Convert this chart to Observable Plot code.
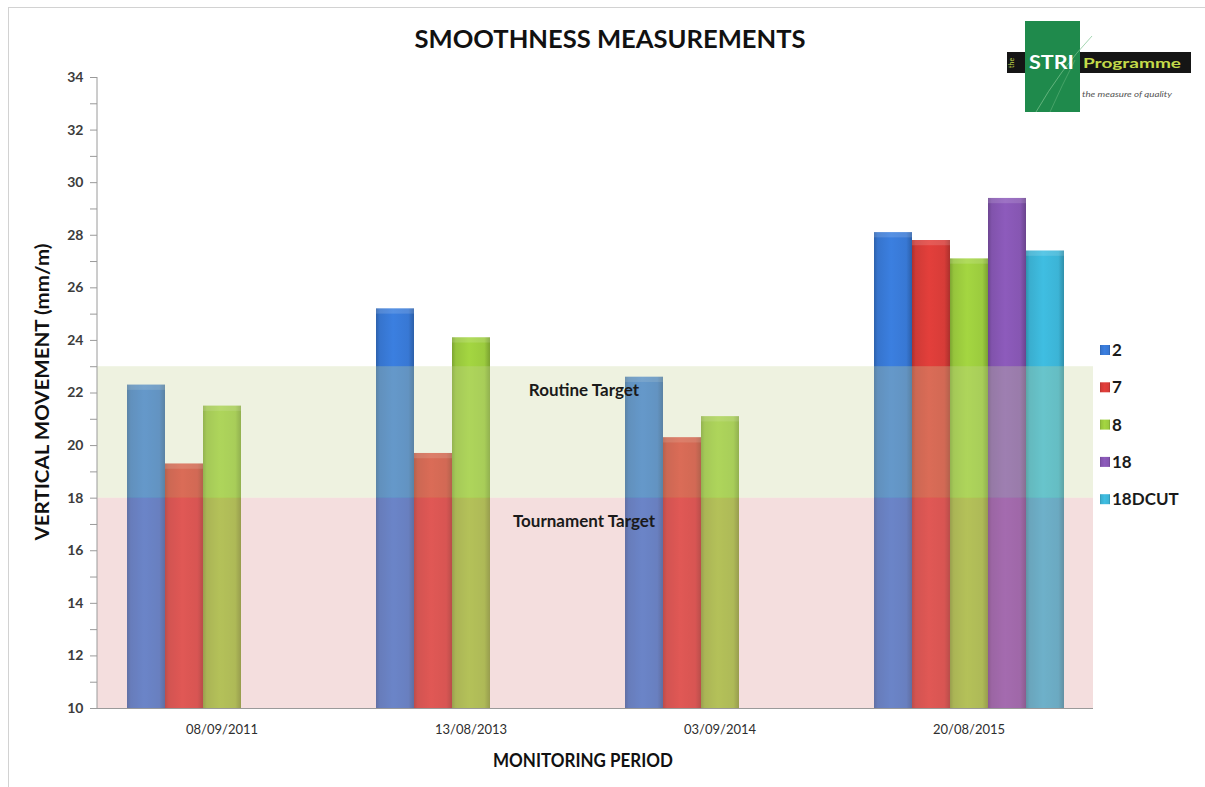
<!DOCTYPE html>
<html>
<head>
<meta charset="utf-8">
<script src="https://cdn.jsdelivr.net/npm/d3@7"></script>
<script src="https://cdn.jsdelivr.net/npm/@observablehq/plot@0.6"></script>
<style>
  html, body { margin: 0; padding: 0; background: #ffffff; }
  #chart { position: relative; width: 1205px; height: 787px; overflow: hidden; background: #ffffff; font-family: Lato, "Open Sans", sans-serif; }
  #chart > svg { position: absolute; left: 0; top: 0; }
</style>
</head>
<body>
<div id="chart"></div>
<script>
// Monitoring visits (x facets) and green reference numbers (bars inside each visit)
const dates = ["08/09/2011", "13/08/2013", "03/09/2014", "20/08/2015"];
const seriesNames = ["2", "7", "8", "18", "18DCUT"];

// Vertical movement (mm/m) per green, one value per visit (null = not measured)
const values2 = [22.3, 25.2, 22.6, 28.1];
const values7 = [19.3, 19.7, 20.3, 27.8];
const values8 = [21.5, 24.1, 21.1, 27.1];
const values18 = [null, null, null, 29.4];
const values18DCUT = [null, null, null, 27.4];
const seriesValues = [values2, values7, values8, values18, values18DCUT];
const seriesColors = ["#3878d4", "#d73c38", "#9bcb3e", "#8656b2", "#3cb4d6"];

// Y axis
const yMin = 10, yMax = 34;
const yTicks = [10, 12, 14, 16, 18, 20, 22, 24, 26, 28, 30, 32, 34];
const yMinorTicks = [11, 13, 15, 17, 19, 21, 23, 25, 27, 29, 31, 33];

// Target bands
const bandNames = ["Tournament Target", "Routine Target"];
const bandLow = [10, 18];
const bandHigh = [18, 23];
const bandColors = ["#da9191", "#c6d498"];

const rows = [];
seriesNames.forEach((s, i) => {
  dates.forEach((d, j) => {
    const v = seriesValues[i][j];
    if (v != null) rows.push({date: d, series: s, value: v});
  });
});
const bands = bandNames.map((name, i) => ({name, lo: bandLow[i], hi: bandHigh[i], color: bandColors[i]}));

const gradId = i => `bar-grad-${i}`;

const chart = Plot.plot({
  width: 1205,
  height: 787,
  marginTop: 77,
  marginBottom: 79,
  marginLeft: 97,
  marginRight: 112,
  style: {fontFamily: "Lato, 'Open Sans', sans-serif", background: "transparent", overflow: "visible"},
  fx: {domain: dates, padding: 0, label: null},
  x: {domain: seriesNames, axis: null, paddingInner: 0, paddingOuter: 0.76},
  y: {domain: [yMin, yMax], label: null},
  color: {type: "ordinal", domain: seriesNames, range: seriesNames.map((_, i) => `url(#${gradId(i)})`)},
  marks: [
    // bars
    Plot.barY(rows, {fx: "date", x: "series", y1: yMin, y2: "value", fill: "series", inset: 0}),
    // soft bevel along the top of each bar
    Plot.barY(rows, {fx: "date", x: "series", y1: d => d.value - 0.2, y2: "value", fill: "white", fillOpacity: 0.14, inset: 0}),
    Plot.barY(rows, {fx: "date", x: "series", y1: d => d.value - 0.06, y2: "value", fill: "white", fillOpacity: 0.3, inset: 1}),
    // translucent target bands laid over the bars
    ...bands.map(b => Plot.rect([b], {y1: "lo", y2: "hi", fill: b.color, fillOpacity: 0.3})),
    // axes
    Plot.ruleY([yMin], {stroke: "#9a9a9a"}),
    Plot.axisY({ticks: yMinorTicks, tickSize: 7, stroke: "#9a9a9a", tickFormat: () => "", label: null}),
    Plot.axisY({ticks: yTicks, tickSize: 7, tickPadding: 7, stroke: "#9a9a9a", fill: "#3c3c3c",
                fontSize: 14, fontWeight: 700, label: null}),
    Plot.axisFx({anchor: "bottom", tickSize: 0, tickPadding: 16, fontSize: 13, fill: "#2e2e2e", label: null})
  ]
});

// horizontal gradients giving each bar a rounded, shaded look
const svgNS = "http://www.w3.org/2000/svg";
const defs = document.createElementNS(svgNS, "defs");
seriesColors.forEach((c, i) => {
  const g = document.createElementNS(svgNS, "linearGradient");
  g.setAttribute("id", gradId(i));
  g.setAttribute("x1", "0"); g.setAttribute("x2", "1");
  g.setAttribute("y1", "0"); g.setAttribute("y2", "0");
  const base = d3.color(c);
  const stops = [
    [0, base.darker(0.6)], [0.1, base.darker(0.1)], [0.45, base.brighter(0.15)],
    [0.85, base], [1, base.darker(0.65)]
  ];
  stops.forEach(([o, col]) => {
    const s = document.createElementNS(svgNS, "stop");
    s.setAttribute("offset", o);
    s.setAttribute("stop-color", col.formatHex());
    g.appendChild(s);
  });
  defs.appendChild(g);
});
chart.insertBefore(defs, chart.firstChild);

const y = chart.scale("y");
const plotLeft = 97;

// vertical axis line
const axisLine = document.createElementNS(svgNS, "line");
axisLine.setAttribute("x1", plotLeft); axisLine.setAttribute("x2", plotLeft);
axisLine.setAttribute("y1", y.apply(yMin)); axisLine.setAttribute("y2", y.apply(yMax));
axisLine.setAttribute("stroke", "#9a9a9a");
chart.appendChild(axisLine);

const root = document.getElementById("chart");
root.appendChild(chart);

// titles, band labels, legend and logo
const ov = document.createElementNS(svgNS, "svg");
ov.setAttribute("width", 1205); ov.setAttribute("height", 787);
ov.style.fontFamily = "Lato, 'Open Sans', sans-serif";
function txt(parent, attrs, content) {
  const t = document.createElementNS(svgNS, "text");
  for (const k in attrs) t.setAttribute(k, attrs[k]);
  t.textContent = content;
  parent.appendChild(t);
  return t;
}
function el(parent, tag, attrs) {
  const e = document.createElementNS(svgNS, tag);
  for (const k in attrs) e.setAttribute(k, attrs[k]);
  parent.appendChild(e);
  return e;
}

// outer border
el(ov, "rect", {x: 8.5, y: 7.5, width: 1210, height: 800, fill: "none", stroke: "#d2d2d2"});

txt(ov, {x: 610, y: 48, "text-anchor": "middle", "font-size": 25, "font-weight": 700, fill: "#111",
         textLength: 391, lengthAdjust: "spacingAndGlyphs"}, "SMOOTHNESS MEASUREMENTS");
txt(ov, {transform: "translate(49,392) rotate(-90)", "text-anchor": "middle", "font-size": 19, "font-weight": 700,
         fill: "#111", textLength: 297, lengthAdjust: "spacingAndGlyphs"}, "VERTICAL MOVEMENT (mm/m)");
txt(ov, {x: 583, y: 767, "text-anchor": "middle", "font-size": 18, "font-weight": 700, fill: "#111",
         textLength: 180, lengthAdjust: "spacingAndGlyphs"}, "MONITORING PERIOD");

// band labels just under the top of each band
bands.forEach(b => {
  txt(ov, {x: 584, y: y.apply(b.hi - 0.9) + 6, "text-anchor": "middle", "font-size": 17, "font-weight": 700,
           fill: "#1a1a1a"}, b.name);
});

// legend
seriesNames.forEach((s, i) => {
  const cy = 350 + i * 37.3;
  el(ov, "rect", {x: 1100, y: cy - 5, width: 10, height: 10, fill: `url(#${gradId(i)})`});
  txt(ov, {x: 1112, y: cy + 6, "font-size": 17, "font-weight": 700, fill: "#1a1a1a"}, s);
});

// STRI Programme logo
const logo = el(ov, "g", {});
el(logo, "rect", {x: 1007, y: 52, width: 184, height: 21, fill: "#151515"});
el(logo, "rect", {x: 1025, y: 21, width: 55, height: 91, fill: "#1f8a4c"});
el(logo, "path", {d: "M1036,112 Q1060,70 1092,36", fill: "none", stroke: "#7fc592", "stroke-width": 1, opacity: 0.7});
el(logo, "path", {d: "M1050,112 Q1062,85 1075,60", fill: "none", stroke: "#7fc592", "stroke-width": 0.8, opacity: 0.5});
txt(logo, {x: 1029, y: 69, "font-size": 18, "font-weight": 700, fill: "#ffffff", textLength: 45, lengthAdjust: "spacingAndGlyphs"}, "STRI");
txt(logo, {x: 1083, y: 68, "font-size": 14, "font-weight": 700, fill: "#c3da4a", textLength: 98, lengthAdjust: "spacingAndGlyphs"}, "Programme");
txt(logo, {transform: "translate(1014,68) rotate(-90)", "font-size": 7, fill: "#c3da4a"}, "the");
txt(logo, {x: 1082, y: 97, "font-size": 8, "font-style": "italic", fill: "#555", textLength: 90, lengthAdjust: "spacingAndGlyphs"}, "the measure of quality");

root.appendChild(ov);
</script>
</body>
</html>
